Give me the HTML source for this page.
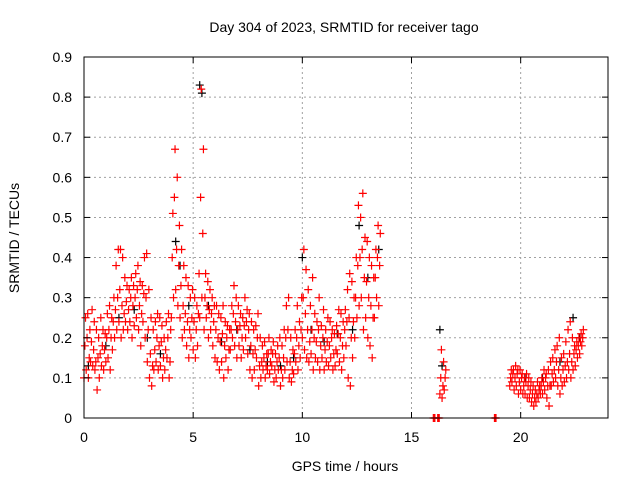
<!DOCTYPE html>
<html><head><meta charset="utf-8"><style>
body{margin:0;background:#fff;}
svg{display:block;font-family:"Liberation Sans",sans-serif;}
</style></head><body>
<svg id="chart" width="640" height="480">
<rect x="0" y="0" width="640" height="480" fill="#fff"/>
<text x="344" y="32" font-size="14" text-anchor="middle">Day 304 of 2023, SRMTID for receiver tago</text>
<text transform="translate(19,238) rotate(-90)" font-size="14" text-anchor="middle">SRMTID / TECUs</text>
<text x="345" y="471" font-size="14" text-anchor="middle">GPS time / hours</text>
<g id="grid"></g><g id="marks"></g><g id="axes"></g>
</svg>
<script>
const times=[0.0,0.1,0.2,0.3,0.4,0.5,0.6,0.7,0.8,0.9,1.0,1.1,1.2,1.3,1.4,1.5,1.6,1.7,1.8,1.9,2.0,2.1,2.2,2.3,2.4,2.5,2.6,2.7,2.8,2.9,3.0,3.1,3.2,3.3,3.4,3.5,3.6,3.7,3.8,3.9,4.0,4.1,4.2,4.3,4.4,4.5,4.6,4.7,4.8,4.9,5.0,5.1,5.2,5.3,5.4,5.5,5.6,5.7,5.8,5.9,6.0,6.1,6.2,6.3,6.4,6.5,6.6,6.7,6.8,6.9,7.0,7.1,7.2,7.3,7.4,7.5,7.6,7.7,7.8,7.9,8.0,8.1,8.2,8.3,8.4,8.5,8.6,8.7,8.8,8.9,9.0,9.1,9.2,9.3,9.4,9.5,9.6,9.7,9.8,9.9,10.0,10.1,10.2,10.3,10.4,10.5,10.6,10.7,10.8,10.9,11.0,11.1,11.2,11.3,11.4,11.5,11.6,11.7,11.8,11.9,12.0,12.1,12.2,12.3,12.4,12.5,12.6,12.7,12.8,12.9,13.0,13.1,13.2,13.3,13.4,13.5,16.0,16.2,16.3,16.4,16.5,18.8,19.5,19.6,19.7,19.8,19.9,20.0,20.1,20.2,20.3,20.4,20.5,20.6,20.7,20.8,20.9,21.0,21.1,21.2,21.3,21.4,21.5,21.6,21.7,21.8,21.9,22.0,22.1,22.2,22.3,22.4,22.5,22.6,22.7,22.8];
const lowVals=[.10,.12,.10,.14,.13,.12,.07,.10,.13,.12,.14,.15,.12,.17,.20,.22,.24,.20,.22,.24,.22,.24,.20,.23,.25,.22,.18,.24,.20,.14,.10,.08,.12,.14,.12,.13,.10,.12,.15,.10,.25,.30,.32,.28,.25,.20,.22,.18,.15,.20,.17,.15,.18,.25,.30,.22,.25,.20,.22,.18,.15,.14,.12,.14,.10,.15,.12,.17,.20,.18,.15,.18,.15,.17,.20,.16,.12,.10,.12,.15,.08,.10,.12,.10,.12,.11,.13,.09,.10,.12,.08,.10,.12,.14,.10,.09,.11,.14,.12,.15,.20,.17,.15,.14,.16,.12,.15,.14,.12,.15,.12,.14,.13,.15,.12,.13,.16,.14,.12,.15,.18,.10,.08,.15,.20,.25,.28,.30,.22,.25,.20,.18,.15,.25,.30,.28,0,0,.06,.05,.07,0,.08,.09,.07,.08,.06,.07,.06,.06,.05,.05,.04,.03,.04,.05,.06,.06,.07,.05,.03,.08,.09,.10,.08,.06,.08,.09,.10,.12,.10,.12,.13,.15,.16,.18];
const midVals=[.18,.20,.15,.19,.17,.14,.15,.16,.18,.17,.20,.22,.20,.24,.27,.30,.32,.28,.26,.29,.27,.30,.28,.30,.32,.28,.26,.31,.30,.22,.16,.13,.17,.20,.18,.19,.15,.17,.20,.14,.40,.55,.42,.38,.33,.28,.26,.24,.22,.25,.24,.22,.26,.55,.46,.30,.28,.27,.26,.24,.22,.20,.19,.21,.18,.20,.17,.22,.26,.24,.22,.23,.20,.23,.24,.22,.18,.16,.17,.20,.13,.14,.15,.13,.16,.14,.16,.12,.14,.15,.12,.15,.20,.22,.14,.12,.16,.20,.18,.22,.30,.26,.22,.19,.22,.20,.19,.22,.18,.20,.17,.19,.18,.20,.16,.17,.21,.20,.18,.22,.24,.25,.20,.24,.30,.38,.40,.42,.35,.34,.30,.28,.25,.35,.40,.38,0,0,.10,.08,.10,0,.10,.11,.10,.11,.09,.10,.08,.09,.08,.07,.06,.05,.06,.07,.08,.09,.10,.08,.08,.11,.12,.14,.12,.10,.12,.13,.14,.16,.14,.16,.17,.18,.19,.20];
const highVals=[.25,.26,.22,.27,.24,.22,.20,.25,.22,.21,.26,.28,.25,.30,.38,.42,.42,.40,.35,.33,.32,.35,.33,.36,.38,.34,.33,.40,.41,.32,.25,.22,.24,.26,.25,.23,.20,.24,.26,.22,.51,.67,.60,.48,.42,.38,.35,.33,.30,.32,.30,.28,.36,.82,.67,.36,.34,.32,.30,.28,.28,.26,.25,.28,.24,.23,.22,.28,.33,.30,.28,.26,.25,.30,.27,.26,.24,.22,.23,.26,.20,.18,.19,.16,.20,.17,.19,.16,.18,.20,.18,.22,.28,.30,.20,.17,.22,.28,.24,.30,.42,.37,.32,.28,.35,.26,.24,.30,.23,.27,.22,.25,.24,.22,.21,.23,.27,.26,.24,.27,.32,.36,.34,.30,.40,.53,.50,.56,.45,.44,.40,.38,.35,.42,.48,.46,0,0,.17,.14,.12,0,.12,.12,.13,.12,.12,.11,.10,.11,.10,.09,.08,.07,.09,.08,.10,.12,.11,.12,.14,.15,.17,.18,.20,.15,.16,.19,.22,.24,.20,.18,.19,.20,.21,.22];
const blackTimes=[0.2,1.0,1.6,2.3,2.9,3.5,4.2,4.4,4.8,5.3,5.4,5.7,6.3,7.0,7.6,8.4,9.0,9.6,10.0,10.4,11.0,11.6,12.3,12.6,13.0,13.5,16.3,16.4,20.2,21.0,21.8,22.4,22.7];
const blackVals=[.13,.18,.25,.27,.20,.16,.44,.38,.28,.83,.81,.28,.19,.22,.17,.14,.13,.15,.40,.22,.19,.21,.22,.48,.35,.42,.22,.13,.10,.10,.14,.25,.20];
const xTicks=[0,5,10,15,20];
const yTicks=[0,0.1,0.2,0.3,0.4,0.5,0.6,0.7,0.8,0.9];
const yTickLabels=["0","0.1","0.2","0.3","0.4","0.5","0.6","0.7","0.8","0.9"];

const L=84,R=608,T=57,B=418,XMAX=24,YMAX=0.9;
const sx=v=>L+(R-L)*v/XMAX, sy=v=>B-(B-T)*v/YMAX;
const NS="http://www.w3.org/2000/svg";
function mk(tag,attrs,parent){const e=document.createElementNS(NS,tag);for(const k in attrs)e.setAttribute(k,attrs[k]);parent.appendChild(e);return e;}
const grid=document.getElementById('grid'),marks=document.getElementById('marks'),axes=document.getElementById('axes');
xTicks.forEach(t=>{
 const x=sx(t);
 if(t>0){const g=mk('line',{x1:x,y1:T,x2:x,y2:B,stroke:'#a0a0a0','stroke-dasharray':'2,3'},grid);
 
 }
 mk('line',{x1:x,y1:B,x2:x,y2:B-6,stroke:'#000'},axes);
 mk('line',{x1:x,y1:T,x2:x,y2:T+6,stroke:'#000'},axes);
 const lb=mk('text',{x:x,y:B+24,'font-size':14,'text-anchor':'middle'},axes);lb.textContent=t;
 
 
});
yTicks.forEach((t,i)=>{
 const y=sy(t);
 if(i>0&&i<yTicks.length-1){const g=mk('line',{x1:L,y1:y,x2:R,y2:y,stroke:'#a0a0a0','stroke-dasharray':'2,3'},grid);
 
 }
 mk('line',{x1:L,y1:y,x2:L+6,y2:y,stroke:'#000'},axes);
 mk('line',{x1:R,y1:y,x2:R-6,y2:y,stroke:'#000'},axes);
 const lb=mk('text',{x:L-12,y:y+5,'font-size':14,'text-anchor':'end'},axes);lb.textContent=yTickLabels[i];
 
 
});
const fr=mk('rect',{x:L,y:T,width:R-L,height:B-T,fill:'none',stroke:'#000'},axes);


function plus(t,v,color,name){
 const x=sx(t),y=sy(v);
 const p=mk('path',{d:`M${x-4} ${y}H${x+4}M${x} ${y-4}V${y+4}`,stroke:color,'stroke-width':1.2,fill:'none'},marks);
 
 
}
blackTimes.forEach((t,i)=>plus(t,blackVals[i],'#000','black-point'));
times.forEach((t,i)=>{
 plus(t,lowVals[i],'#f00','srmtid-point');
 plus(t+0.04,midVals[i],'#f00','srmtid-point');
 plus(t+0.07,highVals[i],'#f00','srmtid-point');
});
</script>
</body></html>
